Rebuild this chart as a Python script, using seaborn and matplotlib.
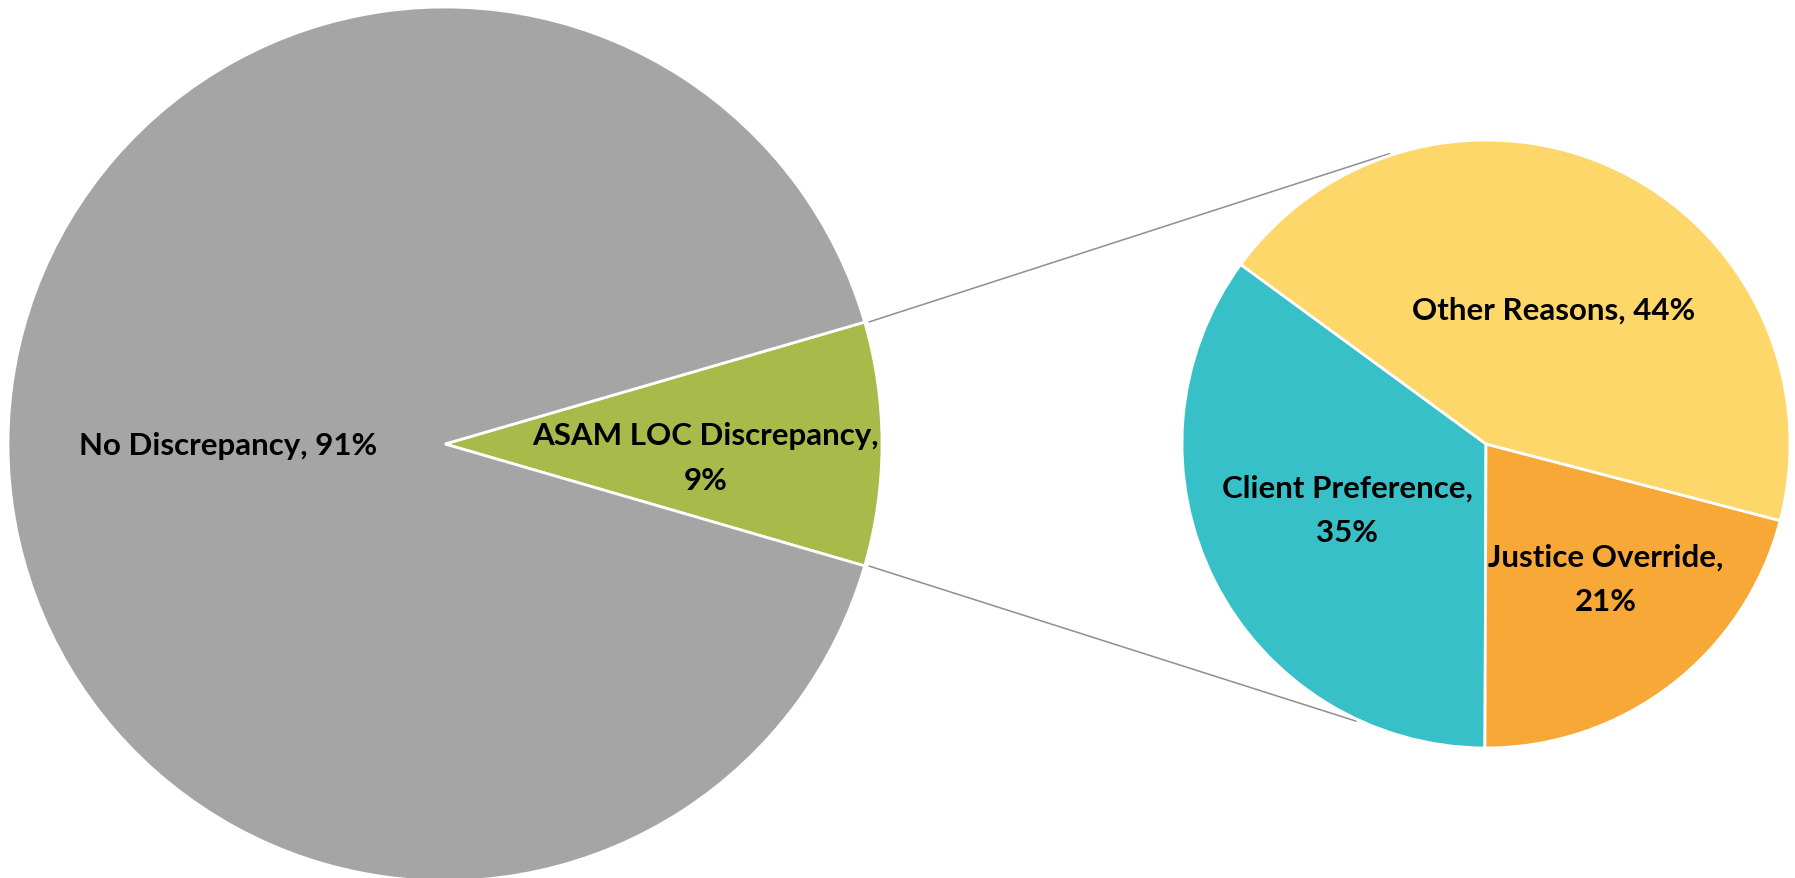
import numpy as np
import matplotlib
matplotlib.use("Agg")
import matplotlib.pyplot as plt
import seaborn as sns

# ---- data ----
main_labels = ["ASAM LOC Discrepancy", "No Discrepancy"]
main_values = [9, 91]
sub_labels = ["Client Preference", "Justice Override", "Other Reasons"]
sub_values = [35, 21, 44]

main_colors = ["#A8BA4A", "#A5A5A5"]
sub_colors = ["#37C0C7", "#F8A836", "#FDD769"]

sns.set_theme(style="white")
plt.rcParams["font.family"] = ["Lato", "DejaVu Sans"]

W, H = 1795, 879
fig = plt.figure(figsize=(W / 100, H / 100), dpi=100)
ax = fig.add_axes([0, 0, 1, 1])
ax.set_xlim(0, W)
ax.set_ylim(0, H)
ax.set_aspect("equal")
ax.axis("off")

# layout (pixel coordinates, y measured from bottom)
c1 = (445, H - 445)
r1 = 437
c2 = (1486, H - 445)
r2 = 304

pal_main = sns.color_palette(main_colors)
pal_sub = sns.color_palette(sub_colors)

start1 = -main_values[0] / sum(main_values) * 360 / 2
w1, _ = ax.pie(main_values, colors=pal_main, startangle=start1, counterclock=True,
               center=c1, radius=r1, frame=True,
               wedgeprops=dict(edgecolor="white", linewidth=2))

w2, _ = ax.pie(sub_values, colors=pal_sub, startangle=143.8, counterclock=True,
               center=c2, radius=r2, frame=True,
               wedgeprops=dict(edgecolor="white", linewidth=2))
ax.set_xlim(0, W)
ax.set_ylim(0, H)
ax.axis("off")

# connector lines from the exploded wedge corners to the secondary pie
g = w1[0]
for ang_src, ang_dst in [(g.theta2, 108.3), (g.theta1, -115.0)]:
    x0 = c1[0] + r1 * np.cos(np.radians(ang_src)) + 4
    y0 = c1[1] + r1 * np.sin(np.radians(ang_src))
    x1 = c2[0] + (r2 + 2) * np.cos(np.radians(ang_dst))
    y1 = c2[1] + (r2 + 2) * np.sin(np.radians(ang_dst))
    ax.plot([x0, x1], [y0, y1], color="#8f8f8f", lw=1.1, zorder=0,
            solid_capstyle="butt")

fs = 22.5
tkw = dict(ha="center", va="center", fontsize=fs, fontweight="bold",
           color="black", linespacing=1.72)

def place(center, radius, ang, dist, text):
    x = center[0] + dist * radius * np.cos(np.radians(ang))
    y = center[1] + dist * radius * np.sin(np.radians(ang))
    ax.text(x, y, text, **tkw)

# label positions (angle, fraction of radius)
pos_main = {"No Discrepancy": (180.3, 0.497), "ASAM LOC Discrepancy": (-3.0, 0.597)}
pos_sub = {"Client Preference": (205.5, 0.505), "Justice Override": (-48.5, 0.593),
           "Other Reasons": (63.1, 0.494)}

for lab, v in zip(main_labels, main_values):
    a, d = pos_main[lab]
    txt = f"{lab}, {v}%" if lab == "No Discrepancy" else f"{lab},\n{v}%"
    place(c1, r1, a, d, txt)

for lab, v in zip(sub_labels, sub_values):
    a, d = pos_sub[lab]
    txt = f"{lab}, {v}%" if lab == "Other Reasons" else f"{lab},\n{v}%"
    place(c2, r2, a, d, txt)

fig.savefig("out.png", dpi=100, facecolor="white")
